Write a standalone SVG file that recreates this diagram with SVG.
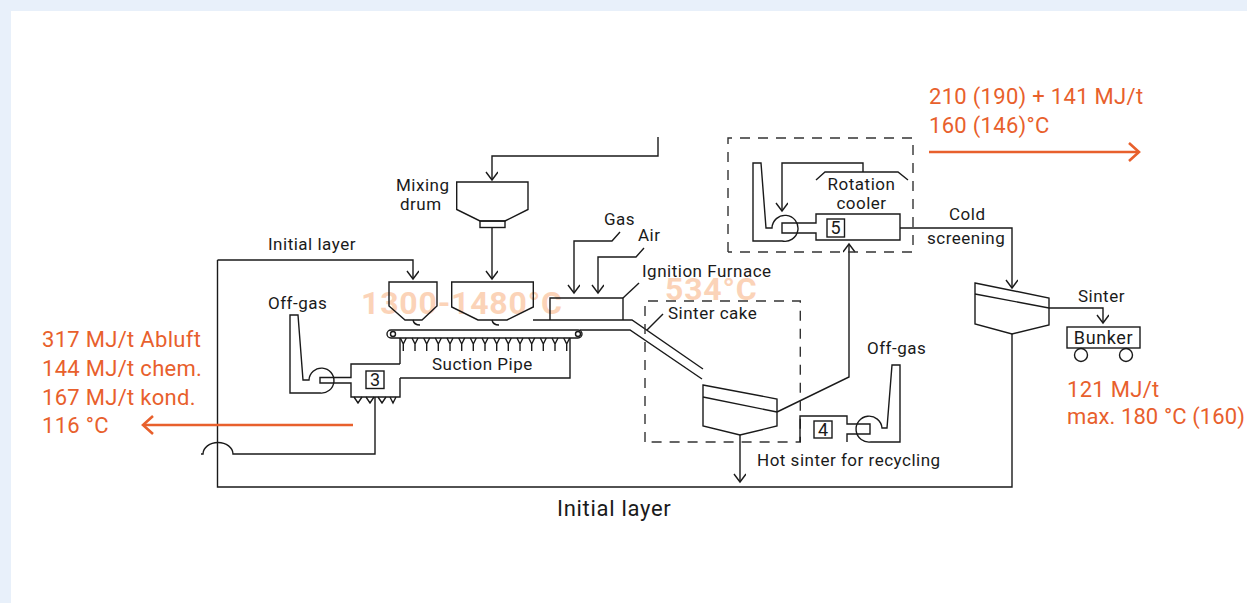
<svg xmlns="http://www.w3.org/2000/svg" width="1247" height="603" viewBox="0 0 1247 603">
<style>
text{font-family:Roboto,"Noto Sans",sans-serif;fill:#1a1a1a;font-size:17px;letter-spacing:.5px}
.l{fill:none;stroke:#1a1a1a;stroke-width:1.4;stroke-linejoin:miter}
.d{fill:none;stroke:#333;stroke-width:1.4;stroke-dasharray:10 8}
.o{fill:none;stroke:#e8602c;stroke-width:2.6}
text.ot{fill:#e8602c;font-size:22px;letter-spacing:.3px}
text.f{fill:#fbd3b8;font-size:32px;font-weight:700;letter-spacing:.8px}
.c{text-anchor:middle}
text.n{font-size:18px;letter-spacing:0}
</style>
<defs>
<marker id="a" markerUnits="userSpaceOnUse" markerWidth="14" markerHeight="14" refX="9" refY="6" orient="auto"><path d="M1 0L9 6L1 12" fill="none" stroke="#1a1a1a" stroke-width="1.4"/></marker>
<marker id="oa" markerUnits="userSpaceOnUse" markerWidth="20" markerHeight="24" refX="16" refY="11" orient="auto"><path d="M6 2L16 11L6 20" fill="none" stroke="#e8602c" stroke-width="2.6"/></marker>
<path id="y" d="M-3 338L0 344V351M3 338L0 344" fill="none" stroke="#1a1a1a" stroke-width="1.4"/>
</defs>
<rect width="1247" height="603" fill="#e8f0fa"/>
<rect x="11" y="11" width="1236" height="592" fill="#fff"/>
<g id="heat-labels">
<text class="f" x="361" y="314">1300-1480°C</text>
<text class="f" x="665" y="300">534°C</text>
</g>
<g id="connectors">
<path class="l" d="M658 137V156H492V180" marker-end="url(#a)"/>
<path class="l" d="M492 228V279" marker-end="url(#a)"/>
<path class="l" d="M217.500 260H413V279" marker-end="url(#a)"/>
<path class="l" d="M217.500 260V487H1012V334"/>
<path class="l" d="M201 454H203A15 11.500 0 0 1 233 454H375V397"/>
<path class="l" d="M620 232L612 241H574V293" marker-end="url(#a)"/>
<path class="l" d="M644 248L636 257H598V293" marker-end="url(#a)"/>
<path class="l" d="M623 298L639 283"/>
<path class="l" d="M533 320H632L703 369"/>
<path class="l" d="M580 330H630L702 379"/>
<path class="l" d="M647 330L663 314"/>
<path class="l" d="M740 435V482" marker-end="url(#a)"/>
<path class="l" d="M777 412L849 377V244" marker-end="url(#a)"/>
<path class="l" d="M400 364V338M400 378H570V338"/>
<path class="l" d="M900 228H1012V288" marker-end="url(#a)"/>
<path class="l" d="M1049 308H1103V323" marker-end="url(#a)"/>
<path class="l" d="M863 172V163H782V211" marker-end="url(#a)"/>
<path class="o" d="M929 152H1139" marker-end="url(#oa)"/>
<path class="o" d="M353 425H143" marker-end="url(#oa)"/>
</g>
<g id="mixing-drum">
<path class="l" d="M456.700 182H528V209.500L505 221H480L456.700 209.500Z"/>
<rect class="l" x="480" y="221" width="25" height="6.500"/>
<text x="396" y="191">Mixing</text><text x="400" y="210">drum</text>
</g>
<g id="hopper-1"><path class="l" d="M389 282H437V306L422 320H405L389 306Z"/><path class="l" d="M413 320Q414 325 420 325"/></g>
<g id="hopper-2"><path class="l" d="M451.700 282H533.300V307L507 320H478L451.700 307Z"/><path class="l" d="M492 320Q493 325 499 325"/></g>
<g id="conveyor">
<rect class="l" x="387" y="330" width="195" height="8" rx="4"/>
<circle class="l" cx="393" cy="334" r="2.500"/><circle class="l" cx="578" cy="334" r="2.500"/>
<use href="#y" x="403.300"/><use href="#y" x="415"/><use href="#y" x="426.700"/><use href="#y" x="438.300"/><use href="#y" x="450"/><use href="#y" x="461.700"/><use href="#y" x="473.300"/><use href="#y" x="485"/><use href="#y" x="496.700"/><use href="#y" x="508.300"/><use href="#y" x="520"/><use href="#y" x="531.700"/><use href="#y" x="543.300"/><use href="#y" x="555"/><use href="#y" x="566.700"/>
<text x="432" y="370">Suction Pipe</text>
</g>
<g id="furnace"><path class="l" d="M550 320V298H623V320"/>
<text x="604" y="225">Gas</text><text x="638" y="241">Air</text><text x="642" y="277">Ignition Furnace</text></g>
<g id="unit-3">
<path class="l" d="M400 364H351V377.500H320V383H351V397H400V378"/>
<rect class="l" x="366" y="371" width="18" height="17.500"/>
<text class="c n" x="375" y="386">3</text>
<path class="l" d="M354 397L358 403L362 397M366 397L370 403L374 397M378 397L382 403L386 397M390 397L393 403L396 397"/>
<path class="l" d="M290 315H298L303 380H309A12.500 12.500 0 1 1 320 393H290Z"/>
<text x="268" y="309">Off-gas</text>
</g>
<g id="sinter-cooler">
<path class="d" d="M645 442V301H800.300V442H645"/>
<text x="668" y="319">Sinter cake</text>
<path class="l" d="M703 385L777 399V426L740 435L703 426Z"/>
<path class="l" d="M703 397L777 412"/>
<text x="757" y="466">Hot sinter for recycling</text>
</g>
<g id="unit-4">
<path class="l" d="M800 442V416H847V424H870V434H847V442"/>
<rect class="l" x="814" y="421" width="18" height="17"/>
<text class="c n" x="823" y="436">4</text>
<path class="l" d="M882 428A13 13 0 1 0 871 442H900V365H892L887 428Z"/>
<text x="867" y="354">Off-gas</text>
</g>
<g id="rotation-cooler">
<path class="d" d="M728 252V138H913V252H728"/>
<path class="l" d="M816 180L825 172H898L908 180"/>
<text class="c" x="861.500" y="190">Rotation</text><text class="c" x="861.500" y="209">cooler</text>
<path class="l" d="M900 214H816V223H782V233H816V240H900Z"/>
<rect class="l" x="827" y="219" width="17.500" height="18"/>
<text class="c n" x="835.500" y="234">5</text>
<path class="l" d="M772 228H766L761 163H753V241H782A13 13 0 1 0 772 228Z"/>
<text x="949" y="220">Cold</text><text x="927" y="244">screening</text>
</g>
<g id="screen"><path class="l" d="M975 283L1049 298V325L1012 334L975 324Z"/><path class="l" d="M975 294L1049 308"/><text x="1078" y="302">Sinter</text></g>
<g id="bunker"><rect class="l" x="1067" y="327" width="73" height="21"/>
<text class="c" x="1103.500" y="344" style="font-size:18px;letter-spacing:.6px">Bunker</text>
<circle class="l" cx="1081" cy="355" r="6.500"/><circle class="l" cx="1126" cy="355" r="6.500"/></g>
<g id="annotations">
<text class="ot" x="929" y="104">210 (190) + 141 MJ/t</text>
<text class="ot" x="929" y="133">160 (146)°C</text>
<text class="ot" x="42" y="347">317 MJ/t Abluft</text>
<text class="ot" x="42" y="376">144 MJ/t chem.</text>
<text class="ot" x="42" y="405">167 MJ/t kond.</text>
<text class="ot" x="42" y="433">116 °C</text>
<text class="ot" x="1067" y="397">121 MJ/t</text>
<text class="ot" x="1067" y="424" style="letter-spacing:.1px">max. 180 °C (160)</text>
<text x="268" y="250">Initial layer</text>
<text x="557" y="516" style="font-size:22px;letter-spacing:.7px">Initial layer</text>
</g>
</svg>
